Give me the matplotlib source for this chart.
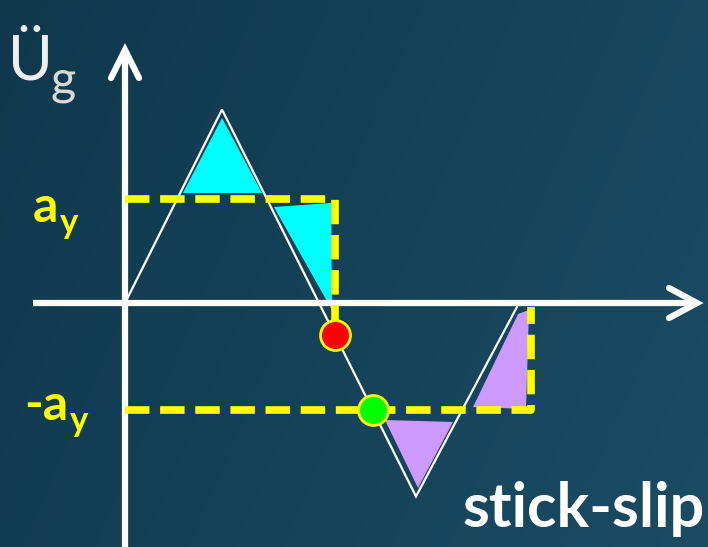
import numpy as np
import matplotlib
matplotlib.use("Agg")
import matplotlib.pyplot as plt
from matplotlib.patches import Polygon
from matplotlib.colors import LinearSegmentedColormap

# ---- data (diagram units: x = time, y = ground acceleration) ----
wave_t = [0.0, 1.0, 3.0, 4.04]
wave_u = [0.0, 1.86, -1.86, -0.04]
ay_hi = 1.0
ay_lo = -1.03
t_red = 2.165          # stick -> slip
t_slip_end = 4.186     # end of second slip phase

cyan1_t = [0.598, 1.0, 1.412]
cyan1_u = [1.058, 1.779, 1.058]
cyan2_t = [1.536, 2.124, 2.134]
cyan2_u = [0.923, 0.962, -0.067]
purple1_t = [2.680, 3.381, 3.021]
purple1_u = [-1.125, -1.144, -1.779]
purple2_t = [3.588, 4.134, 4.165, 4.052]
purple2_u = [-1.0, -1.019, -0.067, -0.106]

labels = {"acc": "Ü", "sub": "g", "ay": "a", "may": "-a", "y": "y", "title": "stick-slip"}

# ---- figure ----
W, H, DPI = 708, 547, 100
fig = plt.figure(figsize=(W / DPI, H / DPI), dpi=DPI)
ax = fig.add_axes([0, 0, 1, 1])
sx, sy = 97.0, 104.0
ox, oy = 125.0, 303.0
xlim = ((0 - ox) / sx, (W - ox) / sx)
ylim = ((oy - H) / sy, oy / sy)
ax.set_xlim(*xlim)
ax.set_ylim(*ylim)
ax.axis("off")

# background gradient
gx, gy = np.meshgrid(np.linspace(0, 1, 200), np.linspace(0, 1, 200))
grad = 0.75 * gx + 0.25 * (1 - gy)
cmap = LinearSegmentedColormap.from_list("bg", ["#0f384c", "#1a4c64"])
ax.imshow(grad, cmap=cmap, extent=[xlim[0], xlim[1], ylim[0], ylim[1]],
          origin="lower", aspect="auto", zorder=0)

# filled regions
for tt, uu, col in [(cyan1_t, cyan1_u, "#00ffff"), (cyan2_t, cyan2_u, "#00ffff"),
                    (purple1_t, purple1_u, "#cc99ff"), (purple2_t, purple2_u, "#cc99ff")]:
    ax.add_patch(Polygon(np.column_stack([tt, uu]), closed=True, facecolor=col,
                         edgecolor="none", zorder=2))

# axes (white arrows)
ax.plot([xlim[0] + 33 / sx, xlim[1] - 12 / sx], [0, 0], color="white", lw=4.5,
        solid_capstyle="butt", zorder=3)
ax.plot([0, 0], [ylim[0], ylim[1] - 52 / sy], color="white", lw=4.5,
        solid_capstyle="butt", zorder=3)
# chevrons
tipx = xlim[1] - 11 / sx
ax.plot([tipx - 28 / sx, tipx, tipx - 28 / sx], [15 / sy, 0, -15 / sy],
        color="white", lw=4.5, solid_capstyle="round", solid_joinstyle="miter", zorder=3)
vty = ylim[1] - 50 / sy
ax.plot([-14 / sx, 0, 14 / sx], [vty - 28 / sy, vty, vty - 28 / sy],
        color="white", lw=4.5, solid_capstyle="round", solid_joinstyle="miter", zorder=3)

# wave
ax.plot(wave_t, wave_u, color="white", lw=1.6, zorder=4, solid_joinstyle="miter")

# yellow dashed lines
u_red = np.interp(t_red, wave_t, wave_u)
ax.plot([0, t_red, t_red], [ay_hi, ay_hi, u_red], color="#ffff00", lw=5.5,
        dashes=(3.2, 1.4), zorder=5, solid_joinstyle="miter")
ax.plot([0, t_slip_end, t_slip_end], [ay_lo, ay_lo, wave_u[-1]], color="#ffff00", lw=5.5,
        dashes=(3.2, 1.4), zorder=5)

# dots
t_green = np.interp(ay_lo, wave_u[1:3][::-1], wave_t[1:3][::-1])
ax.plot([t_red], [u_red], "o", ms=21.5, mfc="#ff0000", mec="#ffff00", mew=2, zorder=6)
ax.plot([t_green], [ay_lo], "o", ms=21.5, mfc="#00ff00", mec="#ffff00", mew=2, zorder=6)

# texts
fam = ["Lato", "DejaVu Sans"]
ax.text(xlim[0] + 8 / sx, ylim[1] - 79 / sy, labels["acc"], color="#eeeeee", fontsize=44,
        family=fam, ha="left", va="baseline", zorder=7)
ax.text(xlim[0] + 50 / sx, ylim[1] - 94 / sy, labels["sub"], color="#d8d8d8", fontsize=35,
        family=fam, ha="left", va="baseline", zorder=7)

ax.text(xlim[0] + 33 / sx, ay_hi + (199 - 222) / sy, labels["ay"], color="#ffff00",
        fontsize=36, family=fam, weight="bold", ha="left", va="baseline", zorder=7)
ax.text(xlim[0] + 60 / sx, ay_hi + (199 - 233) / sy, labels["y"], color="#ffff00",
        fontsize=25, family=fam, weight="bold", ha="left", va="baseline", zorder=7)
ax.text(xlim[0] + 24 / sx, ay_lo + (410 - 420) / sy, labels["may"], color="#ffff00",
        fontsize=36, family=fam, weight="bold", ha="left", va="baseline", zorder=7)
ax.text(xlim[0] + 70 / sx, ay_lo + (410 - 431) / sy, labels["y"], color="#ffff00",
        fontsize=25, family=fam, weight="bold", ha="left", va="baseline", zorder=7)

ax.text(xlim[1] - 3 / sx, ylim[0] + 20 / sy, labels["title"], color="white",
        fontsize=44, family=fam, weight="bold", ha="right", va="baseline", zorder=7)

fig.savefig("out.png", dpi=DPI)
